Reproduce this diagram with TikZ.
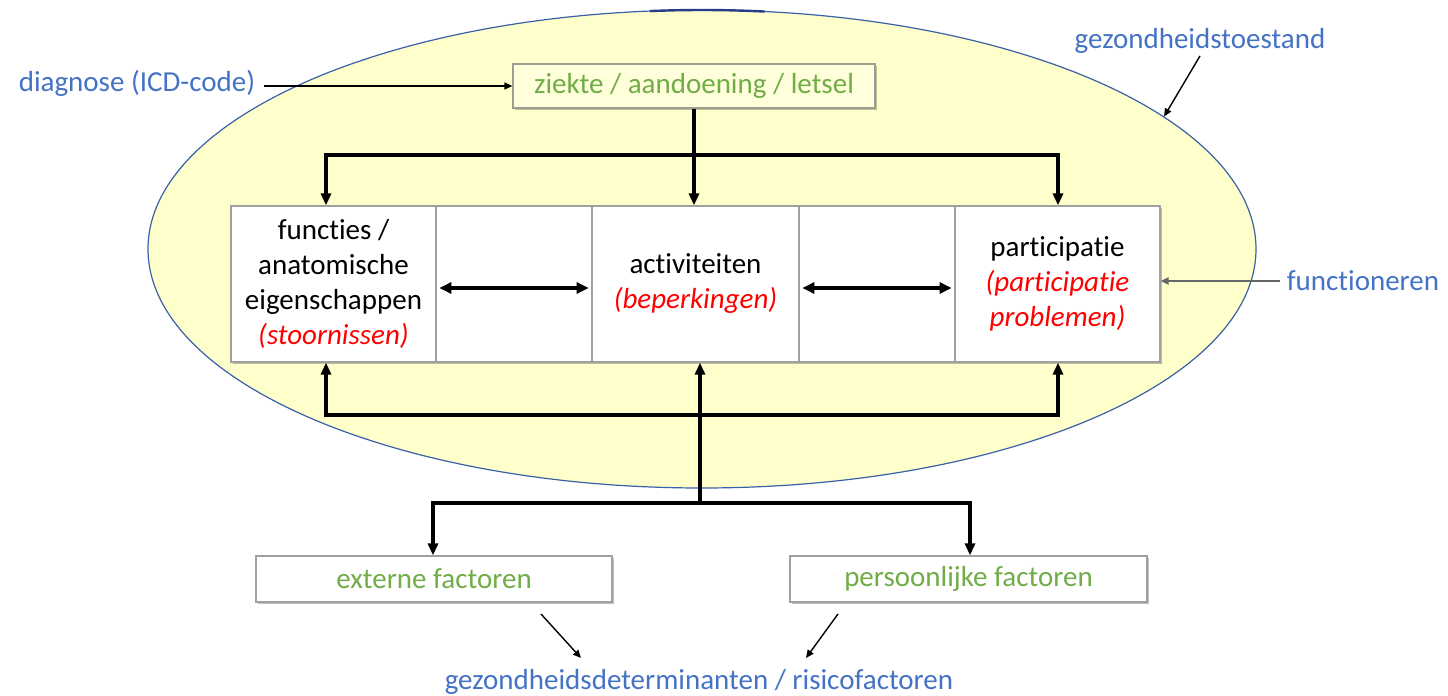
\documentclass[tikz,border=0pt]{standalone}
\usepackage{fontspec}
\setmainfont{Carlito}[Ligatures={NoCommon,NoRequired,NoContextual}]
\usetikzlibrary{arrows.meta,shapes.geometric,shadows}
\definecolor{ellfill}{RGB}{255,255,204}
\definecolor{elldraw}{RGB}{68,114,196}
\definecolor{lblue}{RGB}{68,114,196}
\definecolor{lgreen}{RGB}{112,173,71}
\definecolor{lred}{RGB}{255,0,0}
\definecolor{boxline}{RGB}{160,160,160}
\definecolor{navy}{RGB}{40,60,140}
\begin{document}
\begin{tikzpicture}[x=0.5pt,y=-0.5pt,
  font=\fontsize{14.5}{17.5}\selectfont,
  softshadow/.style={drop shadow={shadow xshift=0.8pt,shadow yshift=-0.8pt,opacity=0.25,fill=black}},
  cell/.style={draw=boxline,line width=0.6pt,fill=white,minimum height=78pt,
    inner sep=0pt,align=center,softshadow},
  factor/.style={draw=boxline,line width=0.6pt,fill=white,minimum height=23pt,
    inner sep=0pt,text=lgreen,softshadow},
  note/.style={text=lblue,inner sep=1pt},
  bar/.style={line width=1.8pt,line join=miter},
  flow/.style={bar,-{Triangle[length=6pt,width=5pt]}},
  dflow/.style={bar,{Triangle[length=6pt,width=5.5pt]}-{Triangle[length=6pt,width=5.5pt]}},
  pointer/.style={line width=0.7pt,-{Triangle[length=4pt,width=3.5pt]}}]

\useasboundingbox (0,0) rectangle (1448,696);

% health condition ellipse
\node[ellipse,draw=elldraw!85!black,line width=0.6pt,fill=ellfill,inner sep=0pt,
  minimum width=554pt,minimum height=239pt] (state) at (702,249) {};
\draw[navy,line width=1.2pt] (state.center) ++(83.5:277pt and 119.5pt)
  arc[start angle=83.5,end angle=95.4,x radius=277pt,y radius=119.5pt];

% disease box
\node[draw=boxline!90!olive,line width=0.6pt,fill=ellfill!70,minimum width=181pt,
  minimum height=22pt,inner sep=0pt,text=lgreen,softshadow] (top) at (694,86)
  {ziekte / aandoening / letsel};

% functioning row
\node[cell,minimum width=102.5pt] (c1) at (333.5,284)
  {functies /\\anatomische\\eigenschappen\\{\itshape\color{lred}(stoornissen)}};
\node[cell,minimum width=78pt] (c2) at (514,284) {};
\node[cell,minimum width=103.5pt] (c3) at (695.5,284)
  {activiteiten\\{\itshape\color{lred}(beperkingen)}};
\node[cell,minimum width=78pt] (c4) at (877,284) {};
\node[cell,minimum width=102.5pt] (c5) at (1057.5,284)
  {participatie\\{\itshape\color{lred}(participatie}\\{\itshape\color{lred}problemen)}};

% factor boxes
\node[factor,minimum width=178pt] (ext) at (434,579) {externe factoren};
\node[factor,minimum width=178.5pt] (pers) at (968.5,579) {persoonlijke factoren};

% labels
\node[note] (diag) at (137,83) {diagnose (ICD-code)};
\node[note] (gzt) at (1200,41) {gezondheidstoestand};
\node[note] (func) at (1363,281) {functioneren};
\node[note] (det) at (699,682) {gezondheidsdeterminanten / risicofactoren};

% branching from the disease box
\coordinate (tsplit) at (695,155);
\coordinate (tl) at (326,155);
\coordinate (tr) at (1058,155);
\draw[flow] (top.south) -- (c3.north -| top.south);
\draw[flow] (tsplit) -- (tl) -- (tl |- c1.north);
\draw[flow] (tsplit) -- (tr) -- (tr |- c5.north);

% interactions within the row
\draw[dflow] ([xshift=2pt,yshift=-2pt]c2.west) -- ([xshift=-2pt,yshift=-2pt]c2.east);
\draw[dflow] ([xshift=2pt,yshift=-2pt]c4.west) -- ([xshift=-2pt,yshift=-2pt]c4.east);

% contextual factors feeding the row
\coordinate (bsplit) at (700,415);
\coordinate (bl) at (326,415);
\coordinate (br) at (1058,415);
\coordinate (ds) at (700,503);
\coordinate (dl) at (433,503);
\coordinate (dr) at (970,503);
\draw[flow] (ds) -- (bsplit |- c3.south);
\draw[flow] (bsplit) -- (bl) -- (bl |- c1.south);
\draw[flow] (bsplit) -- (br) -- (br |- c5.south);
\draw[flow] (ds) -- (dl) -- (dl |- ext.north);
\draw[flow] (ds) -- (dr) -- (dr |- pers.north);

% pointers from the labels
\draw[pointer] ([xshift=3pt]diag.east |- top.west) -- (top.west);
\draw[pointer] (gzt.south) -- (state.16);
\draw[pointer,draw=black!60,line width=1pt] ([xshift=-2pt]func.west) -- (func.west -| c5.east);
\coordinate (e1) at (541,614);
\coordinate (e2) at (581,658);
\coordinate (p1) at (838,614);
\coordinate (p2) at (806,658);
\draw[pointer] (e1) -- (e2);
\draw[pointer] (p1) -- (p2);
\end{tikzpicture}
\end{document}
